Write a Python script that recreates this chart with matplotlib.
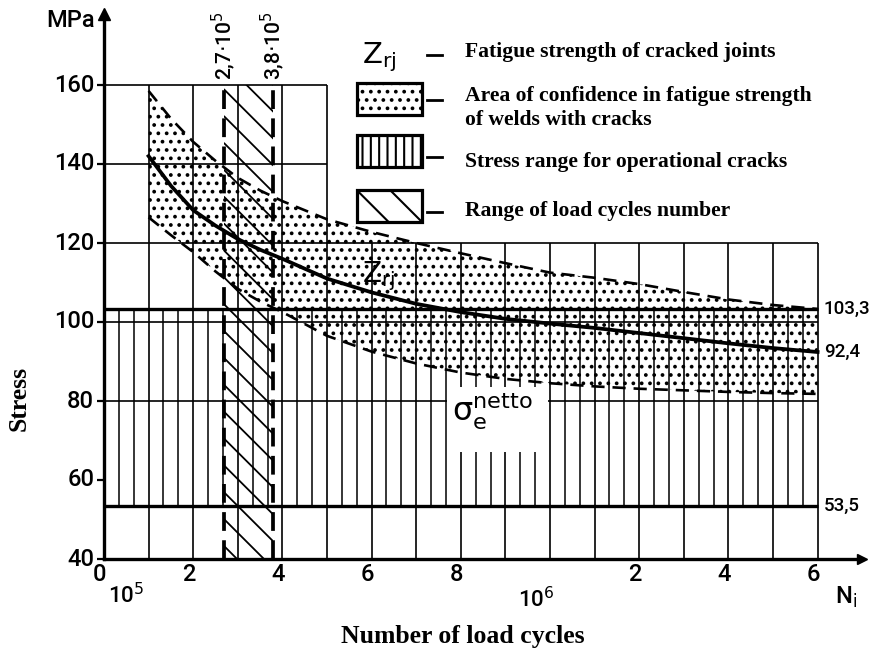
import matplotlib.pyplot as plt
from matplotlib.patches import Rectangle
from matplotlib.lines import Line2D
import numpy as np

# load cycles in units of 10^5, stress in MPa
cycles = [1, 1.5, 2, 2.5, 3, 3.5, 4, 5, 6, 7, 8, 9, 10, 11, 12, 13, 14, 15, 16]
z_rj = [142, 134.5, 128.3, 124.4, 121, 118.3, 116, 111, 107.5, 104.6, 102.5,
        100.8, 99.6, 98.5, 97.2, 95.9, 94.6, 93.4, 92.4]
conf_upper = [158.5, 151.5, 145.6, 140.8, 136.5, 133.3, 130.6, 126, 122.8, 120,
              117.4, 114.9, 112.5, 111.2, 109.6, 107.6, 105.7, 104.3, 103.3]
conf_lower = [126.5, 122, 117.7, 112.8, 108.4, 105.2, 102.5, 96.5, 92.5, 89.5,
              87.2, 85.6, 84.5, 83.7, 83.1, 82.7, 82.3, 82, 81.8]

stress_hi = 103.3
stress_lo = 53.5
cycles_range = [2.7, 3.8]
n_max = 16

y_ticks = [40, 60, 80, 100, 120, 140, 160]
x_ticks = [0, 2, 4, 6, 8, 12, 14, 16]
x_tick_labels = ['0', '2', '4', '6', '8', '2', '4', '6']

legend_labels = ['Fatigue strength of cracked joints',
                 'Area of confidence in fatigue strength\nof welds with cracks',
                 'Stress range for operational cracks',
                 'Range of load cycles number']

plt.rcParams['font.family'] = ['Roboto', 'DejaVu Sans']
plt.rcParams['font.weight'] = 'medium'
plt.rcParams['hatch.linewidth'] = 1.5

W, H = 870, 648
fig = plt.figure(figsize=(W / 100, H / 100), dpi=100)
ax = fig.add_axes([0, 0, 1, 1])
# pixel layout of the drawing: x = 104 + 44.6*N, y = 559 - 3.95*(MPa-40)
ax.set_xlim(-104 / 44.6, (W - 104) / 44.6)
ax.set_ylim(40 - (H - 559) / 3.95, 40 + 559 / 3.95)
ax.axis('off')


def fxy(px, py):
    return px / W, 1 - py / H


thin = 1.2
thick = 2.4

# grid
ax.hlines([140, 160], 0, 5, color='k', lw=thin, zorder=2)
ax.hlines([80, 100, 120], 0, n_max, color='k', lw=thin, zorder=2)
ax.vlines(range(1, 6), 40, 160, color='k', lw=thin, zorder=2)
ax.vlines(range(6, n_max + 1), 40, 120, color='k', lw=thin, zorder=2)

# operational crack stress band (vertical hatching)
fine = [i / 3 for i in range(1, 3 * n_max) if i % 3]
ax.vlines(fine, stress_lo, stress_hi, color='k', lw=1.1, zorder=2)
ax.hlines([stress_lo, stress_hi], 0, n_max, color='k', lw=thick, zorder=3)

# range of load cycles (diagonal hatching between dashed lines)
band = Rectangle((cycles_range[0], 40), cycles_range[1] - cycles_range[0], 120,
                 fc='none', ec='none')
ax.add_patch(band)
drop = 12.4
for y0 in np.arange(160 + drop, 40, -6.8):
    ln, = ax.plot(cycles_range, [y0, y0 - drop], color='k', lw=1.3, zorder=3)
    ln.set_clip_path(band)
ax.vlines(cycles_range, 40, 160, color='k', lw=2.7, linestyles=(0, (5, 2.5)), zorder=3)

# confidence area (stipple)
ax.fill_between(cycles, conf_lower, conf_upper, facecolor='none', edgecolor='k',
                hatch='..', linewidth=0, zorder=3)
ax.plot(cycles, conf_upper, color='k', lw=1.9, ls=(0, (5, 3)), zorder=4)
ax.plot(cycles, conf_lower, color='k', lw=1.9, ls=(0, (5, 3)), zorder=4)
ax.plot(cycles, z_rj, color='k', lw=2.7, zorder=5)

# white box for sigma label
ax.add_patch(Rectangle((7.7, 67), 2.26, 16.5, fc='white', ec='none', zorder=4))
ax.text(7.8, 77.5, r'$\mathrm{\sigma}_{\mathrm{e}}^{\mathrm{netto}}$', fontsize=23,
        ha='left', va='center', zorder=6)
ax.text(6.15, 111.5, r'$\mathrm{Z}_{\mathrm{rj}}$', fontsize=20,
        ha='center', va='center', zorder=6)

# axes with arrows
ax.plot([0, 0], [40, 178], color='k', lw=thick, zorder=5)
ax.plot(0, 178, marker='^', ms=9, color='k', zorder=5)
ax.plot([0, 17.0], [40, 40], color='k', lw=thick, zorder=5)
ax.plot(17.0, 40, marker='>', ms=7, color='k', zorder=5)
ax.hlines(y_ticks, -0.15, 0, color='k', lw=1.6, zorder=5)

for v in y_ticks:
    ax.text(-0.22, v, str(v), fontsize=17, ha='right', va='center')
for v, s in zip(x_ticks, x_tick_labels):
    ax.text(v - 0.1, 36.2, s, fontsize=17, ha='center', va='center')
ax.text(0.5, 30.8, r'10$^5$', fontsize=16, ha='center', va='center')
ax.text(9.7, 29.6, r'10$^6$', fontsize=16, ha='center', va='center')
ax.text(16.4, 30.3, r'N$_\mathrm{i}$', fontsize=17, ha='left', va='center')
ax.text(-0.2, 176.3, 'MPa', fontsize=17, ha='right', va='center')

for v, s in [(stress_hi, '103,3'), (z_rj[-1], '92,4'), (stress_lo, '53,5')]:
    ax.text(16.14, v, s, fontsize=13.5, ha='left', va='center')

for v, s in zip(cycles_range, [r'2,7$\cdot$10$^5$', r'3,8$\cdot$10$^5$']):
    ax.text(v - 0.02, 161.3, s, fontsize=15, rotation=90, ha='center', va='bottom')

# legend
serif = dict(family=['Liberation Serif', 'DejaVu Serif'], weight='bold')
fig.text(*fxy(362, 57), r'$\mathrm{Z}_{\mathrm{rj}}$', fontsize=21, ha='left', va='center')
boxes = [(83, '..'), (135, '||'), (190, '\\')]
for top, hatch in boxes:
    x0, y1 = fxy(357, top + 32)
    fig.add_artist(Rectangle((x0, y1), 65 / W, 32 / H, transform=fig.transFigure,
                             fc='white', ec='k', lw=2.3, hatch=hatch))
for py in [55, 100, 157, 212]:
    fig.add_artist(Line2D([427 / W, 442 / W], [1 - py / H] * 2,
                          transform=fig.transFigure, color='k', lw=2))
text_y = [52, 108, 162, 211]
for py, s in zip(text_y, legend_labels):
    fig.text(*fxy(465, py), s, ha='left', va='center', linespacing=1.3,
             fontsize=15.6, **serif)

fig.text(*fxy(463, 636), 'Number of load cycles', ha='center', va='center',
         fontsize=18.5, **serif)
fig.text(*fxy(19, 398), 'Stress', ha='center', va='center', rotation=90,
         fontsize=18.5, **serif)

fig.savefig('out.png', dpi=100, facecolor='white')
